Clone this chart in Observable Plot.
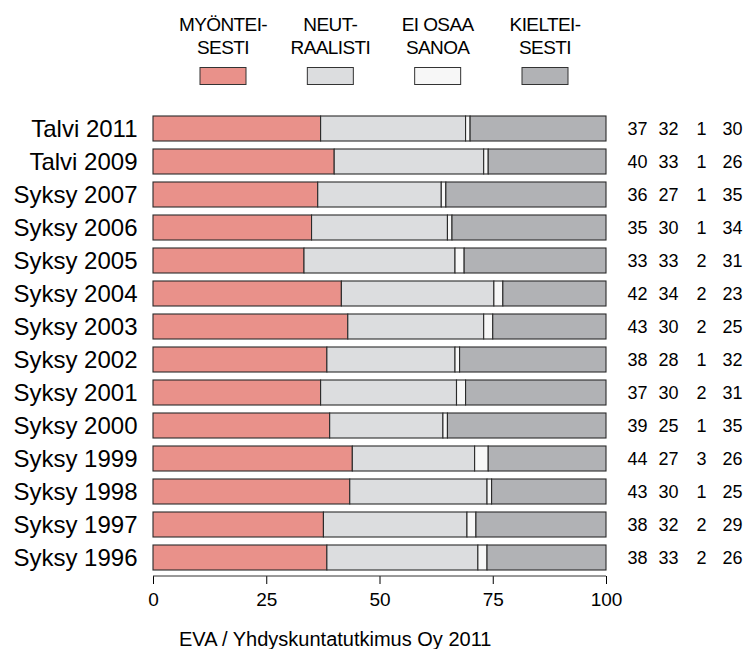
<!DOCTYPE html>
<html><head><meta charset="utf-8">
<script src="https://cdn.jsdelivr.net/npm/d3@7"></script>
<script src="https://cdn.jsdelivr.net/npm/@observablehq/plot@0.6"></script>
<style>
body{margin:0;background:#fff;width:746px;height:649px;overflow:hidden;position:relative;font-family:"Liberation Sans",Arial,sans-serif;color:#000;}
#legend,#chart{display:block;line-height:0;}
#caption{position:absolute;left:179px;top:628px;font-size:20px;line-height:22px;}
</style></head><body>
<div id="legend"></div><div id="chart"></div><div id="caption">EVA / Yhdyskuntatutkimus Oy 2011</div>
<script>
const periods = ["Talvi 2011","Talvi 2009","Syksy 2007","Syksy 2006","Syksy 2005","Syksy 2004","Syksy 2003","Syksy 2002","Syksy 2001","Syksy 2000","Syksy 1999","Syksy 1998","Syksy 1997","Syksy 1996"];
const seriesNames = ["Myönteisesti","Neutraalisti","Ei osaa sanoa","Kielteisesti"];
const legendLines = [["MYÖNTEI-","SESTI"],["NEUT-","RAALISTI"],["EI OSAA","SANOA"],["KIELTEI-","SESTI"]];
const myonteisesti = [37,40,36,35,33,42,43,38,37,39,44,43,38,38];
const neutraalisti = [32,33,27,30,33,34,30,28,30,25,27,30,32,33];
const eiOsaaSanoa  = [1,1,1,1,2,2,2,1,2,1,3,1,2,2];
const kielteisesti = [30,26,35,34,31,23,25,32,31,35,26,25,29,26];
const seriesColors = ["#e9918a","#dcdddf","#f7f7f7","#b1b2b5"];
const xTicks = [0,25,50,75,100];

const valuesBySeries = [myonteisesti, neutraalisti, eiOsaaSanoa, kielteisesti];
const data = periods.flatMap((p,i) => seriesNames.map((s,j) => ({period:p, series:s, value:valuesBySeries[j][i]})));

// Legend (above the plot)
const legendW = 746, legendH = 95;
const lsvg = d3.select("#legend").append("svg").attr("width", legendW).attr("height", legendH)
  .style("font-family", '"Liberation Sans",Arial,sans-serif');
const lx = d3.scalePoint().domain(seriesNames).range([223, 545]);
seriesNames.forEach((s, j) => {
  const g = lsvg.append("g").attr("transform", `translate(${lx(s)},0)`);
  legendLines[j].forEach((line, k) => {
    g.append("text").attr("x", 0).attr("y", 31 + k*23).attr("text-anchor","middle")
      .attr("font-size", 19).attr("letter-spacing", "-0.6px").text(line);
  });
  g.append("rect").attr("x", -23).attr("y", 67.5).attr("width", 46).attr("height", 17)
    .attr("fill", seriesColors[j]).attr("stroke", "#333").attr("stroke-width", 1);
});

// Chart
const W = 746, H = 530, mL = 153, mR = 140, mT = 14, mB = 49;
const colOffsets = [31, 62, 95, 126];
const plot = Plot.plot({
  width: W, height: H,
  marginLeft: mL, marginRight: mR, marginTop: mT, marginBottom: mB,
  style: {fontFamily: '"Liberation Sans",Arial,sans-serif', background: "#fff", color: "#000"},
  x: {domain: [0, 1], label: null},
  y: {domain: periods, paddingInner: 0.25, paddingOuter: 0.12, label: null},
  color: {domain: seriesNames, range: seriesColors},
  marks: [
    Plot.barX(data, Plot.stackX({y: "period", x: "value", fill: "series", offset: "normalize", stroke: "#2a2a2a", strokeWidth: 1.1})),
    Plot.axisY({tickSize: 0, tickPadding: 16, fontSize: 24, label: null}),
    Plot.axisX({ticks: xTicks.map(d => d/100), tickFormat: d => String(Math.round(d*100)), tickSize: 8, tickPadding: 8, fontSize: 19, label: null}),
    ...valuesBySeries.map((vals, j) => Plot.text(periods, {
      y: d => d, text: (d, i) => String(vals[i]), frameAnchor: "right", dx: colOffsets[j], fontSize: 18, textAnchor: "middle"
    }))
  ]
});
document.getElementById("chart").appendChild(plot);
const xs = plot.scale("x");
d3.select(plot).append("line")
  .attr("x1", xs.apply(0)).attr("x2", xs.apply(1))
  .attr("y1", H - mB).attr("y2", H - mB)
  .attr("stroke", "#333").attr("stroke-width", 1);
</script>
</body></html>
